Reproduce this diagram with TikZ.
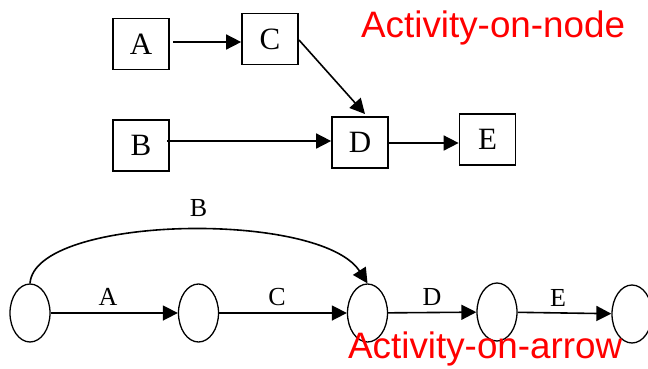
\documentclass[tikz,border=0pt]{standalone}
\usepackage{fontspec}
\setmainfont{Liberation Serif}
\newfontfamily\redfont{Liberation Sans}
\usetikzlibrary{arrows.meta,shapes.geometric}
\begin{document}
\begin{tikzpicture}[x=1pt,y=-1pt,
  actbox/.style={draw,line width=1.7pt,minimum width=56pt,minimum height=51pt,inner sep=0pt,font=\fontsize{31}{31}\selectfont},
  evt/.style={draw,ellipse,line width=1.3pt,minimum width=40pt,minimum height=58pt,inner sep=0pt},
  arr/.style={line width=1.6pt,-{Triangle[length=15pt,width=15pt]}},
  lab/.style={anchor=base,inner sep=0pt,font=\fontsize{26}{26}\selectfont},
  title/.style={anchor=base west,inner sep=0pt,text=red,font=\redfont\fontsize{36.8}{40}\selectfont}]
\useasboundingbox (0,0) rectangle (648,368);
% activity-on-node
\node[actbox] (A) at (141,44) {A};
\node[actbox] (C) at (270,39) {C};
\node[actbox] (B) at (141,145.5) {B};
\node[actbox] (D) at (360,142.5) {D};
\node[actbox] (E) at (487.5,139.5) {E};
\coordinate (a1) at (173,42);
\coordinate (b1) at (167,141);
\coordinate (c1) at (299,40);
\coordinate (d1) at (365,114);
\coordinate (d2) at (388,143);
\draw[arr] (a1) -- (C.west |- a1);
\draw[arr] (c1) -- (d1);
\draw[arr] (b1) -- (D.west |- b1);
\draw[arr] (d2) -- (E.west |- d2);
\node[title] (t1) at (361,37.7) {Activity-on-node};
% activity-on-arrow
\node[evt] (e1) at (30,313) {};
\node[evt] (e2) at (198.5,313) {};
\node[evt] (e3) at (367.5,313) {};
\node[evt] (e4) at (497,312) {};
\node[evt] (e5) at (632,314) {};
\draw[arr] (e1) -- (e2);
\draw[arr] (e2) -- (e3);
\draw[arr] (e3) -- (e4);
\draw[arr] (e4) -- (e5);
\draw[arr] (e1.north) .. controls (35,215) and (320,210) .. (e3.north);
\node[lab] (lA) at (108,305) {A};
\node[lab] (lB) at (198.5,216) {B};
\node[lab] (lC) at (277,305) {C};
\node[lab] (lD) at (432,305) {D};
\node[lab] (lE) at (558,306.5) {E};
\node[title] (t2) at (348,358) {Activity-on-arrow};
\end{tikzpicture}
\end{document}
